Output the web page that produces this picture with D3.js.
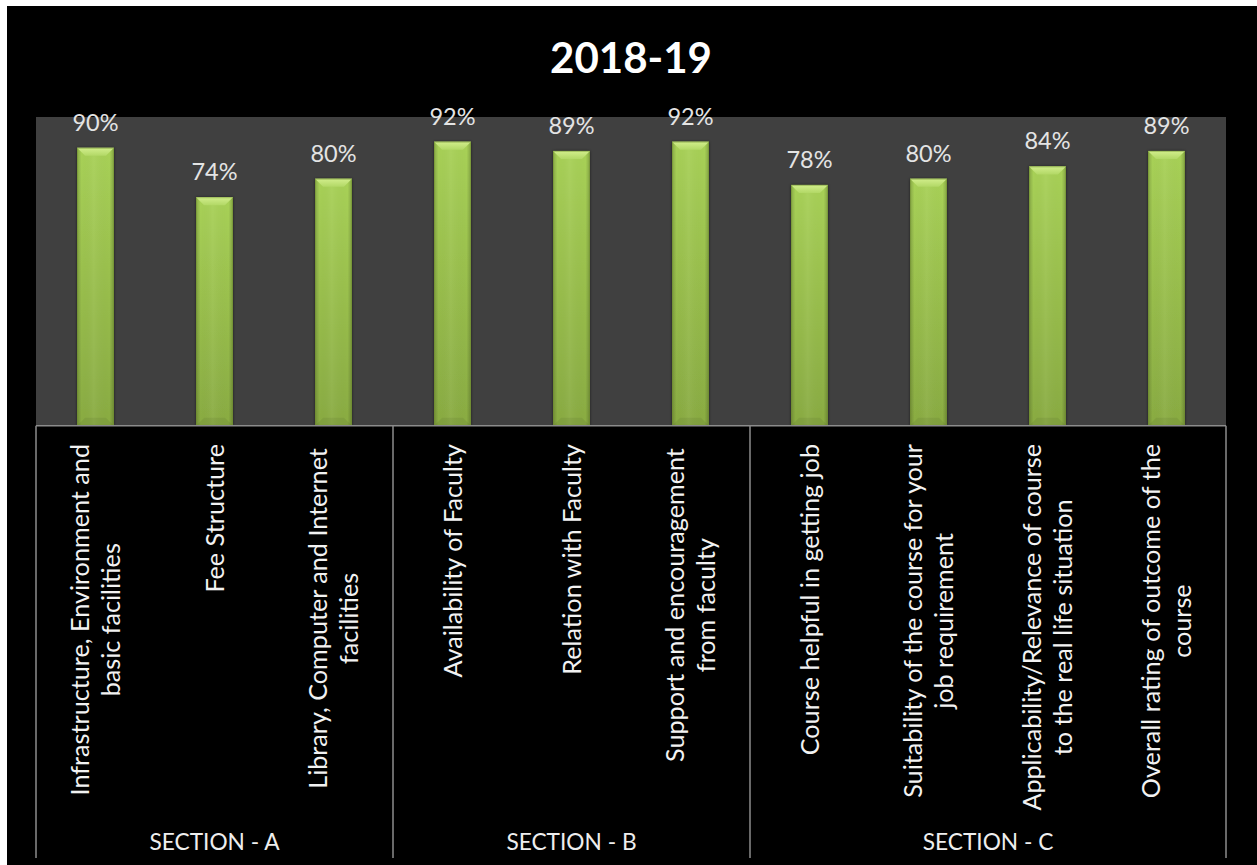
<!DOCTYPE html>
<html>
<head>
<meta charset="utf-8">
<script src="https://cdn.jsdelivr.net/npm/d3@7"></script>
<style>
  html, body { margin: 0; padding: 0; background: #ffffff; }
  svg { display: block; }
</style>
</head>
<body>
<svg id="chart" width="1257" height="865"></svg>
<script>
// ---- data ----
const chartTitle = "2018-19";
const categories = [
  "Infrastructure, Environment and basic facilities",
  "Fee Structure",
  "Library, Computer and Internet facilities",
  "Availability of Faculty",
  "Relation with Faculty",
  "Support and encouragement from faculty",
  "Course helpful in getting job",
  "Suitability of the course for your job requirement",
  "Applicability/Relevance of course to the real life situation",
  "Overall rating of outcome of the course"
];
// wrapped lines for the rotated category labels
const categoryLines = [
  ["Infrastructure, Environment and", "basic facilities"],
  ["Fee Structure"],
  ["Library, Computer and Internet", "facilities"],
  ["Availability of Faculty"],
  ["Relation with Faculty"],
  ["Support and encouragement", "from faculty"],
  ["Course helpful in getting job"],
  ["Suitability of the course for your", "job requirement"],
  ["Applicability/Relevance of course", "to the real life situation"],
  ["Overall rating of outcome of the", "course"]
];
const values = [0.90, 0.74, 0.80, 0.92, 0.89, 0.92, 0.78, 0.80, 0.84, 0.89];
const sections = ["SECTION - A", "SECTION - B", "SECTION - C"];
const sectionSizes = [3, 3, 4];

// ---- layout ----
const W = 1257, H = 865;
const plot = { left: 36, right: 1226, top: 117, bottom: 425.7 };
const labelTop = 444;
const dividerBottom = 858;
const sectionBaseline = 850;
const fontFamily = "Lato, 'Open Sans', 'DejaVu Sans', sans-serif";

const svg = d3.select("#chart");
const defs = svg.append("defs");

// bar body: brighter at the top, deeper green near the base
const gBody = defs.append("linearGradient").attr("id", "barBody")
  .attr("x1", 0).attr("y1", 0).attr("x2", 0).attr("y2", 1);
gBody.append("stop").attr("offset", "0%").attr("stop-color", "#a8d157");
gBody.append("stop").attr("offset", "100%").attr("stop-color", "#89ab42");

// rounded look across the bar width
const gSide = defs.append("linearGradient").attr("id", "barSide")
  .attr("x1", 0).attr("y1", 0).attr("x2", 1).attr("y2", 0);
gSide.append("stop").attr("offset", "0%").attr("stop-color", "#000").attr("stop-opacity", 0.18);
gSide.append("stop").attr("offset", "12%").attr("stop-color", "#000").attr("stop-opacity", 0.0);
gSide.append("stop").attr("offset", "45%").attr("stop-color", "#fff").attr("stop-opacity", 0.05);
gSide.append("stop").attr("offset", "88%").attr("stop-color", "#000").attr("stop-opacity", 0.0);
gSide.append("stop").attr("offset", "100%").attr("stop-color", "#000").attr("stop-opacity", 0.2);

// top bevel highlight
const gTop = defs.append("linearGradient").attr("id", "barTop")
  .attr("x1", 0).attr("y1", 0).attr("x2", 0).attr("y2", 1);
gTop.append("stop").attr("offset", "0%").attr("stop-color", "#d2ee8c");
gTop.append("stop").attr("offset", "100%").attr("stop-color", "#b2d866");

const shadow = defs.append("filter").attr("id", "barShadow")
  .attr("x", "-30%").attr("y", "-10%").attr("width", "160%").attr("height", "120%");
shadow.append("feGaussianBlur").attr("in", "SourceAlpha").attr("stdDeviation", 1.6).attr("result", "b");
shadow.append("feOffset").attr("in", "b").attr("dx", 0).attr("dy", 0).attr("result", "o");
shadow.append("feComponentTransfer").attr("in", "o").attr("result", "s")
  .append("feFuncA").attr("type", "linear").attr("slope", 0.55);
const fm = shadow.append("feMerge");
fm.append("feMergeNode").attr("in", "s");
fm.append("feMergeNode").attr("in", "SourceGraphic");

// ---- backgrounds ----
svg.append("rect").attr("x", 7).attr("y", 6).attr("width", W - 7).attr("height", H - 6).attr("fill", "#000");
svg.append("rect")
  .attr("x", plot.left).attr("y", plot.top)
  .attr("width", plot.right - plot.left).attr("height", plot.bottom - plot.top)
  .attr("fill", "#404040");

// ---- scales ----
const x = d3.scaleBand()
  .domain(categories)
  .range([plot.left, plot.right])
  .paddingInner(0.69)
  .paddingOuter(0.345);
const y = d3.scaleLinear().domain([0, 1]).range([plot.bottom, plot.top]);

const data = categories.map((c, i) => ({ cat: c, value: values[i], lines: categoryLines[i] }));

// ---- bars ----
const bevel = 8;
const bars = svg.append("g").selectAll("g.bar").data(data).join("g").attr("class", "bar");
bars.each(function (d) {
  const g = d3.select(this);
  const x0 = x(d.cat), bw = x.bandwidth();
  const x1 = x0 + bw;
  const top = y(d.value), base = y(0);
  g.append("rect").attr("x", x0).attr("y", top).attr("width", bw).attr("height", base - top)
    .attr("fill", "url(#barBody)").attr("filter", "url(#barShadow)");
  g.append("rect").attr("x", x0).attr("y", top).attr("width", bw).attr("height", base - top)
    .attr("fill", "url(#barSide)");
  // top bevel facet
  g.append("path")
    .attr("d", `M${x0},${top} L${x1},${top} L${x1 - bevel},${top + bevel} L${x0 + bevel},${top + bevel} Z`)
    .attr("fill", "url(#barTop)");
  // bottom bevel facet
  g.append("path")
    .attr("d", `M${x0},${base} L${x1},${base} L${x1 - bevel},${base - bevel} L${x0 + bevel},${base - bevel} Z`)
    .attr("fill", "#000").attr("fill-opacity", 0.06);
  g.append("rect").attr("x", x0 + 0.5).attr("y", top + 0.5).attr("width", bw - 1).attr("height", base - top - 1)
    .attr("fill", "none").attr("stroke", "#6f8f2e").attr("stroke-opacity", 0.45).attr("stroke-width", 1);
});

// ---- value labels ----
svg.append("g").selectAll("text").data(data).join("text")
  .attr("x", d => x(d.cat) + x.bandwidth() / 2)
  .attr("y", d => y(d.value) - 17)
  .attr("text-anchor", "middle")
  .attr("font-family", fontFamily)
  .attr("font-size", 23.5)
  .attr("fill", "#e4e4e4")
  .text(d => d3.format(".0%")(d.value));

// ---- category axis ----
svg.append("line")
  .attr("x1", plot.left).attr("x2", plot.right)
  .attr("y1", plot.bottom).attr("y2", plot.bottom)
  .attr("stroke", "#8c8c8c").attr("stroke-width", 1.5);

// section boundaries
const bounds = [0];
sectionSizes.forEach(n => bounds.push(bounds[bounds.length - 1] + n));
svg.append("g").selectAll("line").data(bounds).join("line")
  .attr("x1", b => plot.left + b * x.step())
  .attr("x2", b => plot.left + b * x.step())
  .attr("y1", plot.bottom).attr("y2", dividerBottom)
  .attr("stroke", "#8c8c8c").attr("stroke-width", 1.5);

// rotated category labels, lines centred on each other and hung from the axis
const lineGap = 31.5;
const fontSizeCat = 25.2;
const capShift = 9;
const catG = svg.append("g");
data.forEach(d => {
  const cx = x(d.cat) + x.bandwidth() / 2;
  const n = d.lines.length;
  const t = catG.append("text")
    .attr("font-family", fontFamily)
    .attr("font-size", fontSizeCat)
    .attr("fill", "#f2f2f2")
    .attr("text-anchor", "middle");
  const tsp = t.selectAll("tspan").data(d.lines).join("tspan").text(l => l);
  let maxLen = 0;
  tsp.each(function () { maxLen = Math.max(maxLen, this.getComputedTextLength()); });
  const cy = labelTop + maxLen / 2;
  t.attr("transform", `translate(${cx},${cy}) rotate(-90)`);
  tsp.attr("x", 0).attr("y", (l, i) => capShift + (i - (n - 1) / 2) * lineGap);
});

// section labels
svg.append("g").selectAll("text").data(sections).join("text")
  .attr("x", (s, i) => plot.left + (bounds[i] + bounds[i + 1]) / 2 * x.step())
  .attr("y", sectionBaseline)
  .attr("text-anchor", "middle")
  .attr("font-family", fontFamily)
  .attr("font-size", 22.7)
  .attr("fill", "#eeeeee")
  .text(s => s);

// ---- title ----
svg.append("text")
  .attr("x", 631).attr("y", 73)
  .attr("text-anchor", "middle")
  .attr("font-family", fontFamily)
  .attr("font-weight", "bold")
  .attr("font-size", 42)
  .attr("fill", "#ffffff")
  .text(chartTitle);
</script>
</body>
</html>
